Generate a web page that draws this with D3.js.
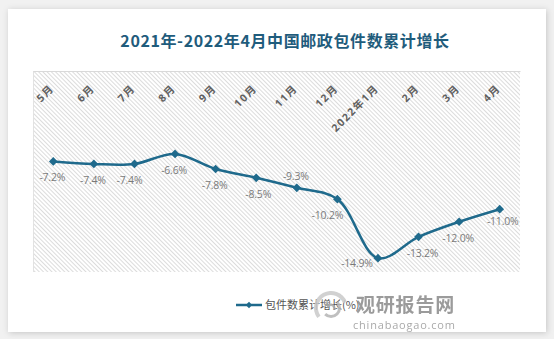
<!DOCTYPE html>
<html>
<head>
<meta charset="utf-8">
<script src="https://cdn.jsdelivr.net/npm/d3@7"></script>
<style>
  html, body { margin: 0; padding: 0; background: #f1f1f1; }
  svg { display: block; }
</style>
</head>
<body>
<svg id="chart" width="554" height="339"></svg>
<script>
// Cumulative growth of postal parcel volume, May 2021 – Apr 2022
const months = ["5月", "6月", "7月", "8月", "9月", "10月", "11月", "12月", "2022年1月", "2月", "3月", "4月"];
const growth = [-7.2, -7.4, -7.4, -6.6, -7.8, -8.5, -9.3, -10.2, -14.9, -13.2, -12.0, -11.0];
const seriesName = "包件数累计增长(%)";
const titleText = "2021年-2022年4月中国邮政包件数累计增长";
const yDomain = [-16, 0];

const W = 554, H = 339;
const card = { x: 8, y: 9, w: 538, h: 323 };
const plot = { left: 33, top: 71, right: 520, bottom: 272 };
const lineColor = "#1f6a8c";
const cjk = "'Noto Sans CJK SC', 'Noto Sans', sans-serif";
const latin = "'Open Sans', 'Noto Sans CJK SC', sans-serif";

const svg = d3.select("#chart");
const defs = svg.append("defs");

// soft drop shadow for the white card
const shadow = defs.append("filter").attr("id", "cardShadow")
  .attr("x", -0.05).attr("y", -0.05).attr("width", 1.1).attr("height", 1.1);
shadow.append("feDropShadow").attr("dx", 1).attr("dy", 1)
  .attr("stdDeviation", 3).attr("flood-color", "#000").attr("flood-opacity", 0.18);

// diagonal hatch fill for the plot area
const hatch = defs.append("pattern").attr("id", "hatch")
  .attr("patternUnits", "userSpaceOnUse").attr("width", 3).attr("height", 3)
  .attr("patternTransform", "rotate(-45)");
hatch.append("rect").attr("width", 3).attr("height", 3).attr("fill", "#ffffff");
hatch.append("line").attr("x1", 0.5).attr("y1", 0).attr("x2", 0.5).attr("y2", 3)
  .attr("stroke", "#dcdcdc").attr("stroke-width", 1);

svg.append("rect").attr("width", W).attr("height", H).attr("fill", "#f1f1f1");
svg.append("rect").attr("x", card.x).attr("y", card.y).attr("width", card.w).attr("height", card.h)
  .attr("fill", "#ffffff").attr("filter", "url(#cardShadow)");

// title
svg.append("text").attr("x", 285).attr("y", 47).attr("text-anchor", "middle")
  .attr("font-family", cjk).attr("font-size", 16).attr("font-weight", "bold")
  .attr("letter-spacing", 0.6).attr("fill", "#1f5c7c").text(titleText);

// scales
const x = d3.scaleBand().domain(months).range([plot.left, plot.right]);
const cx = d => x(d) + x.bandwidth() / 2;
const y = d3.scaleLinear().domain(yDomain).range([plot.bottom, plot.top]);

// plot background
svg.append("rect").attr("x", plot.left).attr("y", plot.top)
  .attr("width", plot.right - plot.left).attr("height", plot.bottom - plot.top)
  .attr("fill", "url(#hatch)");
svg.append("line").attr("x1", plot.left + 0.5).attr("x2", plot.left + 0.5)
  .attr("y1", plot.top).attr("y2", plot.bottom).attr("stroke", "#e2e2e2");

// category axis sits on the zero line at the top, labels hang inside the plot
const xAxis = svg.append("g").attr("transform", `translate(0,${y(0)})`)
  .call(d3.axisBottom(x).tickSize(0).tickFormat(d => d));
xAxis.select(".domain").attr("stroke", "#d9d9d9").attr("stroke-width", 1);
xAxis.selectAll(".tick text")
  .attr("font-family", latin).attr("font-size", 10.5).attr("font-weight", "bold")
  .attr("letter-spacing", 1.5).attr("fill", "#606060")
  .attr("text-anchor", "end").attr("dy", 0).attr("y", 0).attr("x", 0)
  .attr("transform", `translate(1.5,${89 - y(0)}) rotate(-45)`);

// series data
const pts = months.map((m, i) => ({ m, v: growth[i] }));

// smoothed line
const line = d3.line().x(d => cx(d.m)).y(d => y(d.v)).curve(d3.curveCatmullRom.alpha(0.5));
svg.append("path").datum(pts).attr("d", line)
  .attr("fill", "none").attr("stroke", lineColor).attr("stroke-width", 2.5)
  .attr("stroke-linejoin", "round");

// diamond markers
svg.append("g").selectAll("path").data(pts).join("path")
  .attr("d", d3.symbol().type(d3.symbolSquare).size(38))
  .attr("transform", d => `translate(${cx(d.m)},${y(d.v)}) rotate(45)`)
  .attr("fill", lineColor);

// value labels; most sit under their point, a few are nudged clear of the line
const nudge = {
  "7月": [-4, 0], "10月": [3, 0], "11月": [0, -28], "12月": [-9, 0],
  "2022年1月": [-20, -11], "2月": [5, 0], "4月": [4, -4]
};
svg.append("g").selectAll("text").data(pts).join("text")
  .attr("x", d => cx(d.m) - 1 + (nudge[d.m] ? nudge[d.m][0] : 0))
  .attr("y", d => y(d.v) + 20 + (nudge[d.m] ? nudge[d.m][1] : 0))
  .attr("text-anchor", "middle")
  .attr("font-family", latin).attr("font-size", 10.5).attr("letter-spacing", -0.2)
  .attr("fill", "#7a7a7a")
  .text(d => d.v.toFixed(1) + "%");

// legend
const lg = svg.append("g").attr("transform", "translate(236,305)");
lg.append("line").attr("x1", 0).attr("x2", 26).attr("stroke", lineColor).attr("stroke-width", 2.5);
lg.append("path").attr("d", d3.symbol().type(d3.symbolSquare).size(20))
  .attr("transform", "translate(13,0) rotate(45)").attr("fill", lineColor);
lg.append("text").attr("x", 29).attr("y", 4).attr("font-family", cjk).attr("font-size", 11)
  .attr("fill", "#555").text(seriesName);

// publisher mark
const wm = svg.append("g").attr("opacity", 0.85);
const logo = wm.append("g").attr("transform", "translate(331,308)").attr("fill", "none");
logo.append("path").attr("d", d3.arc()({ innerRadius: 13, outerRadius: 17, startAngle: -2.2, endAngle: 1.2 }))
  .attr("fill", "#c9c9c9");
logo.append("path").attr("d", d3.arc()({ innerRadius: 7, outerRadius: 10, startAngle: 0.8, endAngle: 3.9 }))
  .attr("fill", "#b5b5b5");
logo.append("path").attr("d", d3.arc()({ innerRadius: 2, outerRadius: 4.5, startAngle: -1.5, endAngle: 1.8 }))
  .attr("fill", "#a8a8a8");
wm.append("text").attr("x", 356).attr("y", 312).attr("font-family", cjk).attr("font-size", 19)
  .attr("font-weight", "bold").attr("fill", "#8a8a8a").attr("letter-spacing", 0.8).text("观研报告网");
wm.append("text").attr("x", 353).attr("y", 329).attr("font-family", latin).attr("font-size", 11)
  .attr("fill", "#9a9a9a").attr("letter-spacing", 0.8).text("chinabaogao.com");
</script>
</body>
</html>
